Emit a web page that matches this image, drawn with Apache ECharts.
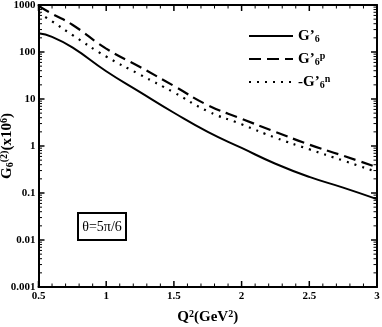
<!DOCTYPE html>
<html>
<head>
<meta charset="utf-8">
<script src="https://cdn.jsdelivr.net/npm/echarts@6/dist/echarts.min.js"></script>
<style>
html,body{margin:0;padding:0;background:#fff;}
#c{width:382px;height:327px;}
</style>
</head>
<body>
<div id="c"></div>
<script>
// Q^2 values (GeV^2)
const q2 = [0.5, 0.6, 0.75, 1.0, 1.25, 1.5, 1.75, 2.0, 2.25, 2.5, 2.75, 3.0];
// G'6 (solid)
const gSolid = [250, 210, 125, 39, 14, 5.1, 2.0, 0.91, 0.42, 0.22, 0.13, 0.074];
// G'6^p (dashed)
const gDashed = [950, 650, 380, 118, 48, 19, 7.4, 3.8, 2.0, 1.07, 0.62, 0.355];
// -G'6^n (dotted)
const gDotted = [680, 450, 230, 80, 33, 13.8, 5.5, 2.9, 1.5, 0.85, 0.49, 0.28];
const yTicks = ['0.001', '0.01', '0.1', '1', '10', '100', '1000'];
const xTicks = ['0.5', '1', '1.5', '2', '2.5', '3'];
// tick positions: [x, y, isMajor]
const xTickVals = [];
for (let i = 0; i <= 25; i++) xTickVals.push([+(0.5 + i * 0.1).toFixed(1), 1, i % 5 === 0 ? 1 : 0]);
const yTickVals = [];
for (let d = -3; d <= 3; d++) {
  yTickVals.push([1, Math.pow(10, d), 1]);
  if (d < 3) for (let k = 2; k <= 9; k++) yTickVals.push([1, k * Math.pow(10, d), 0]);
}

const serif = '"Liberation Serif", "Times New Roman", serif';
const pairs = a => q2.map((x, i) => [x, a[i]]);

const chart = echarts.init(document.getElementById('c'), null, {renderer: 'canvas'});

const richLegend = {
  m: {fontFamily: serif, fontWeight: 'bold', fontSize: 15, color: '#000', lineHeight: 16, verticalAlign: 'middle'},
  s: {fontFamily: serif, fontWeight: 'bold', fontSize: 10, color: '#000', lineHeight: 8, verticalAlign: 'bottom', padding: [6, 0, 0, 0]},
  p: {fontFamily: serif, fontWeight: 'bold', fontSize: 10, color: '#000', lineHeight: 8, verticalAlign: 'top', padding: [0, 0, 4, 0]}
};

const axisLineStyle = {color: '#000', width: 2};

function tickItem(horizontal) {
  return function (params, api) {
    const cs = params.coordSys;
    const major = api.value(2) === 1;
    const len = major ? 6 : 3.5;
    const w = major ? 1.5 : 1;
    const p = api.coord([api.value(0), api.value(1)]);
    if (horizontal) {
      const x = p[0];
      const yB = cs.y + cs.height, yT = cs.y;
      return {type: 'group', children: [
        {type: 'line', shape: {x1: x, y1: yB, x2: x, y2: yB - len}, style: {stroke: '#000', lineWidth: w}},
        {type: 'line', shape: {x1: x, y1: yT, x2: x, y2: yT + len}, style: {stroke: '#000', lineWidth: w}}
      ]};
    }
    const y = p[1];
    const xL = cs.x, xR = cs.x + cs.width;
    return {type: 'group', children: [
      {type: 'line', shape: {x1: xL, y1: y, x2: xL + len, y2: y}, style: {stroke: '#000', lineWidth: w}},
      {type: 'line', shape: {x1: xR, y1: y, x2: xR - len, y2: y}, style: {stroke: '#000', lineWidth: w}}
    ]};
  };
}

const option = {
  animation: false,
  backgroundColor: '#fff',
  grid: {left: 38.5, right: 5, top: 5, bottom: 40, outerBoundsMode: 'none', containLabel: false},
  legend: {
    orient: 'vertical',
    left: 243,
    top: 23,
    itemWidth: 44,
    itemHeight: 14,
    itemGap: 7,
    data: ['G6', 'G6p', 'G6n'],
    itemStyle: {opacity: 0},
    formatter: function (n) {
      if (n === 'G6') return '{m|G’}{s|6}';
      if (n === 'G6p') return '{m|G’}{s|6}{p|p}';
      return '{m|-G’}{s|6}{p|n}';
    },
    textStyle: {rich: richLegend}
  },
  xAxis: [{
    type: 'value', min: 0.5, max: 3, interval: 0.5,
    axisLine: {show: true, lineStyle: axisLineStyle},
    axisTick: {show: false},
    splitLine: {show: false},
    axisLabel: {
      fontFamily: serif, fontWeight: 'bold', fontSize: 11, color: '#000', margin: 4,
      formatter: v => xTicks[Math.round((v - 0.5) / 0.5)]
    },
    name: '{m|Q}{p|2}{m|(GeV}{p|2}{m|)}',
    nameLocation: 'middle',
    nameGap: 22,
    nameMoveOverlap: false,
    nameTextStyle: {rich: {
      m: {fontFamily: serif, fontWeight: 'bold', fontSize: 15, color: '#000', lineHeight: 16, verticalAlign: 'bottom'},
      p: {fontFamily: serif, fontWeight: 'bold', fontSize: 10, color: '#000', lineHeight: 10, verticalAlign: 'top'}
    }}
  }, {
    type: 'value', min: 0.5, max: 3, interval: 0.5, position: 'top',
    axisLine: {show: true, lineStyle: axisLineStyle},
    axisTick: {show: false},
    splitLine: {show: false},
    axisLabel: {show: false}
  }],
  yAxis: [{
    type: 'log', logBase: 10, min: 0.001, max: 1000,
    axisLine: {show: true, lineStyle: axisLineStyle},
    axisTick: {show: false},
    splitLine: {show: false},
    axisLabel: {
      fontFamily: serif, fontWeight: 'bold', fontSize: 11, color: '#000', margin: 3,
      formatter: v => yTicks[Math.round(Math.log10(v)) + 3]
    },
    name: '{m|G}{s|6}{p|(2)}{m|(x10}{p|6}{m|)}',
    nameLocation: 'middle',
    nameGap: 23,
    nameMoveOverlap: false,
    nameRotate: 90,
    nameTextStyle: {rich: {
      m: {fontFamily: serif, fontWeight: 'bold', fontSize: 15, color: '#000', lineHeight: 16, verticalAlign: 'middle'},
      s: {fontFamily: serif, fontWeight: 'bold', fontSize: 10, color: '#000', lineHeight: 8, verticalAlign: 'bottom', padding: [6, 0, 0, 0]},
      p: {fontFamily: serif, fontWeight: 'bold', fontSize: 10, color: '#000', lineHeight: 8, verticalAlign: 'top', padding: [0, 0, 4, 0]}
    }}
  }, {
    type: 'log', logBase: 10, min: 0.001, max: 1000, position: 'right',
    axisLine: {show: true, lineStyle: axisLineStyle},
    axisTick: {show: false},
    splitLine: {show: false},
    axisLabel: {show: false}
  }],
  series: [
    {name: 'G6', type: 'line', smooth: true, symbol: 'none', data: pairs(gSolid),
     lineStyle: {color: '#000', width: 2, type: 'solid'}, itemStyle: {color: '#000'}},
    {name: 'G6p', type: 'line', smooth: true, symbol: 'none', data: pairs(gDashed),
     lineStyle: {color: '#000', width: 2.2, type: [12, 6]}, itemStyle: {color: '#000'}},
    {name: 'G6n', type: 'line', smooth: true, symbol: 'none', data: pairs(gDotted),
     lineStyle: {color: '#000', width: 2.2, type: [2, 6]}, itemStyle: {color: '#000'}},
    {name: 'xticks', type: 'custom', silent: true, clip: false, z: 5,
     renderItem: tickItem(true), data: xTickVals, encode: {x: 0, y: 1}},
    {name: 'yticks', type: 'custom', silent: true, clip: false, z: 5,
     renderItem: tickItem(false), data: yTickVals, encode: {x: 0, y: 1}}
  ],
  graphic: {elements: [{
    type: 'group', left: 77, top: 212,
    children: [
      {type: 'rect', shape: {x: 0, y: 0, width: 48, height: 27},
       style: {fill: '#fff', stroke: '#000', lineWidth: 2}},
      {type: 'text', x: 24, y: 14,
       style: {text: 'θ=5π/6', font: '14px ' + serif, fill: '#000', align: 'center', verticalAlign: 'middle'}}
    ]
  }]}
};
chart.setOption(option);
</script>
</body>
</html>
